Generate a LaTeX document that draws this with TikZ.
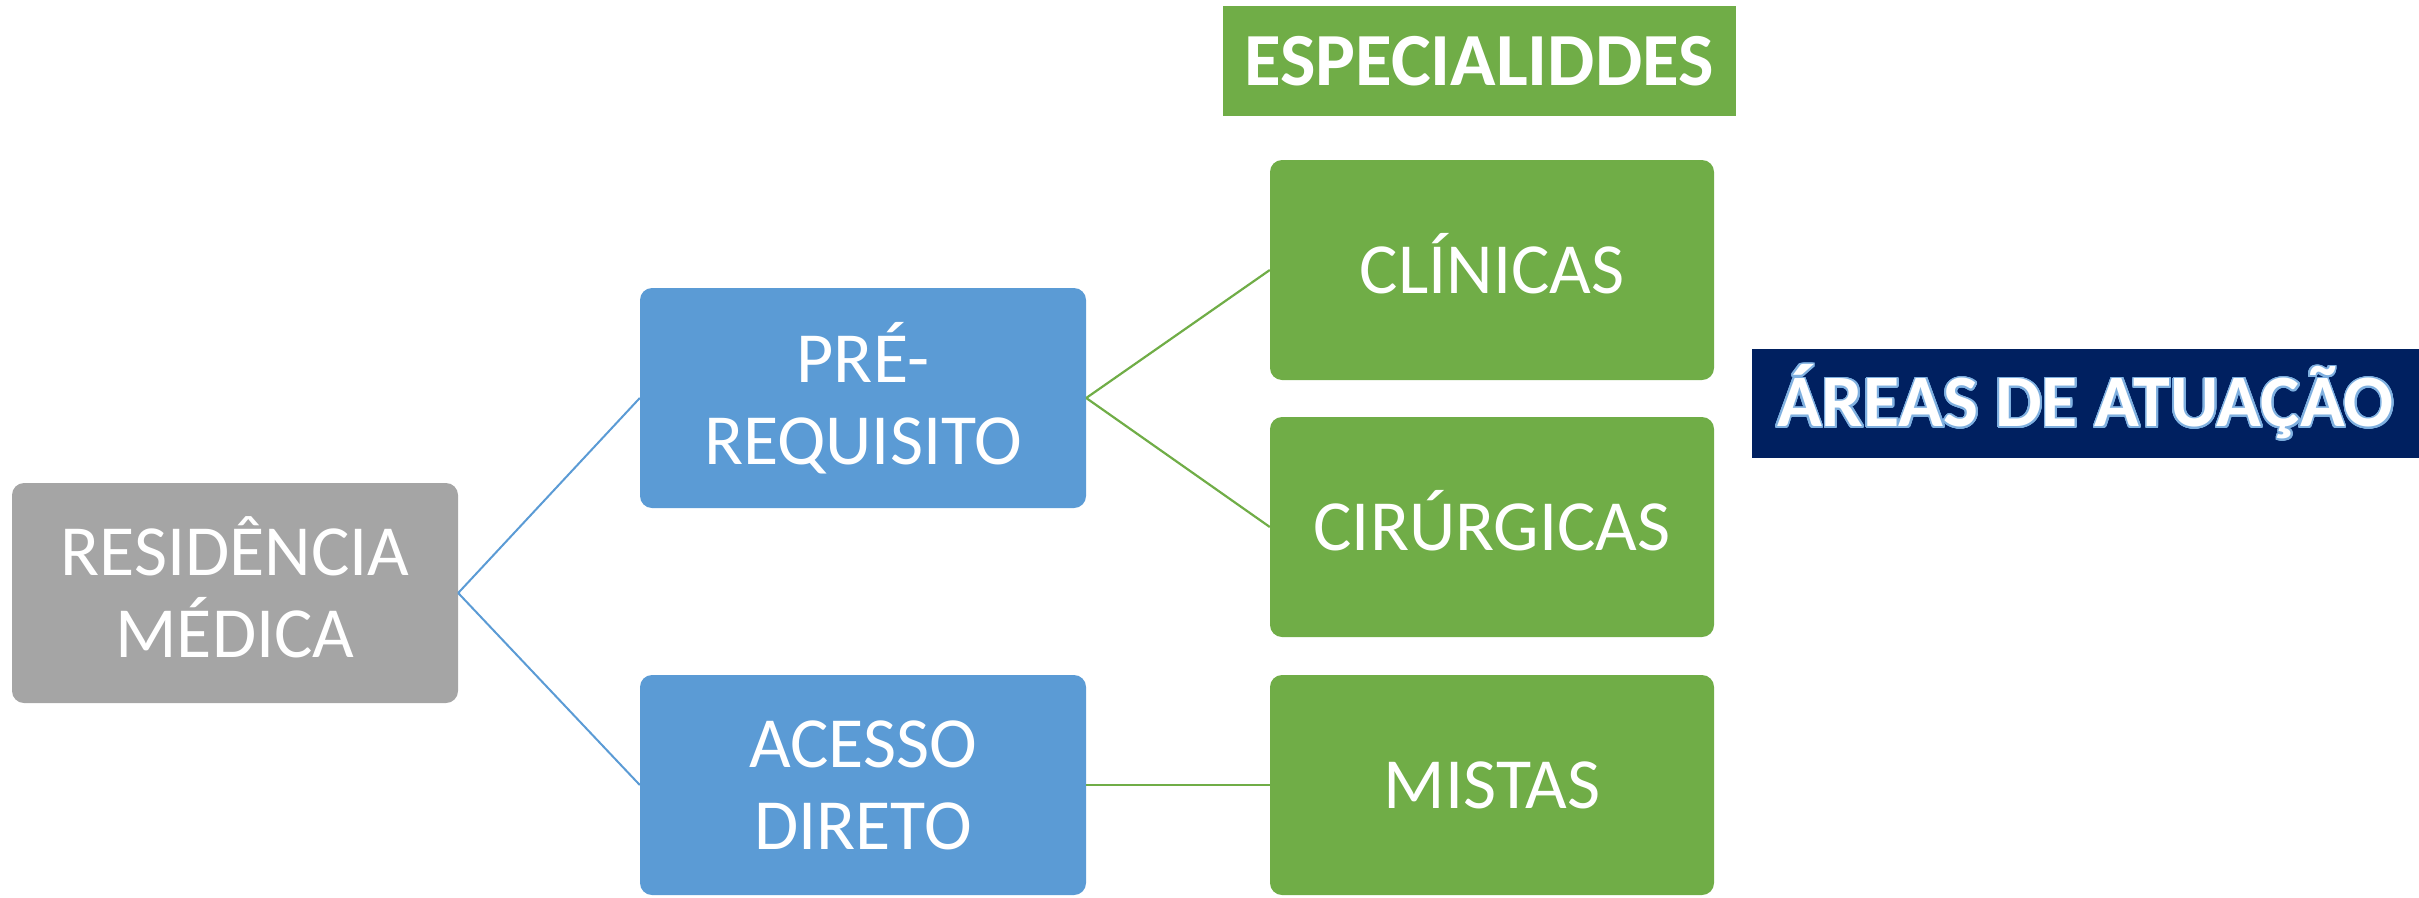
\documentclass[tikz,border=0pt]{standalone}
\usepackage{fontspec}
\setmainfont{Carlito}
\usepackage{contour}
\contourlength{1.8pt}
\contournumber{32}
\definecolor{cgray}{HTML}{A5A5A5}
\definecolor{cblue}{HTML}{5B9BD5}
\definecolor{cgreen}{HTML}{70AD47}
\definecolor{cnavy}{HTML}{002060}
\definecolor{cglow}{HTML}{7FB0E0}
\tikzset{
  box/.style={rounded corners=12pt, inner sep=0pt, minimum width=446pt, minimum height=220pt,
    text=white, align=center, font=\fontsize{72}{82}\selectfont},
  graybox/.style={box, fill=cgray},
  bluebox/.style={box, fill=cblue},
  greenbox/.style={box, fill=cgreen, minimum width=444pt},
  blueline/.style={draw=cblue, line width=2pt},
  greenline/.style={draw=cgreen, line width=2.2pt},
}
\begin{document}
\begin{tikzpicture}[x=1pt,y=-1pt]
\useasboundingbox (0,0) rectangle (2419,897);
\node[graybox] (res) at (235,593) {RESID\smash{Ê}NCIA\\MÉDICA};
\node[bluebox] (pre) at (863,398) {PRÉ-\\REQUISITO};
\node[bluebox] (ace) at (863,785) {ACESSO\\DIRETO};
\node[greenbox] (cli) at (1492,270) {CL\smash{Í}NICAS};
\node[greenbox] (cir) at (1492,527) {CIR\smash{Ú}RGICAS};
\node[greenbox] (mis) at (1492,785) {MISTAS};
\node[fill=cgreen, inner sep=0pt, minimum width=513pt, minimum height=110pt, text=white,
  font=\bfseries\fontsize{75}{80}\selectfont] (esp) at (1479,61) {ESPECIALIDDES};
\node[fill=cnavy, inner sep=0pt, minimum width=667pt, minimum height=109pt,
  font=\bfseries\fontsize{74}{80}\selectfont] (are) at (2085.5,403) {\contour{cglow}{\textcolor{white}{ÁREAS DE ATUAÇÃO}}};
\draw[blueline] (res.east) -- (pre.west);
\draw[blueline] (res.east) -- (ace.west);
\draw[greenline] (pre.east) -- (cli.west);
\draw[greenline] (pre.east) -- (cir.west);
\draw[greenline] (ace.east) -- (mis.west);
\end{tikzpicture}
\end{document}
